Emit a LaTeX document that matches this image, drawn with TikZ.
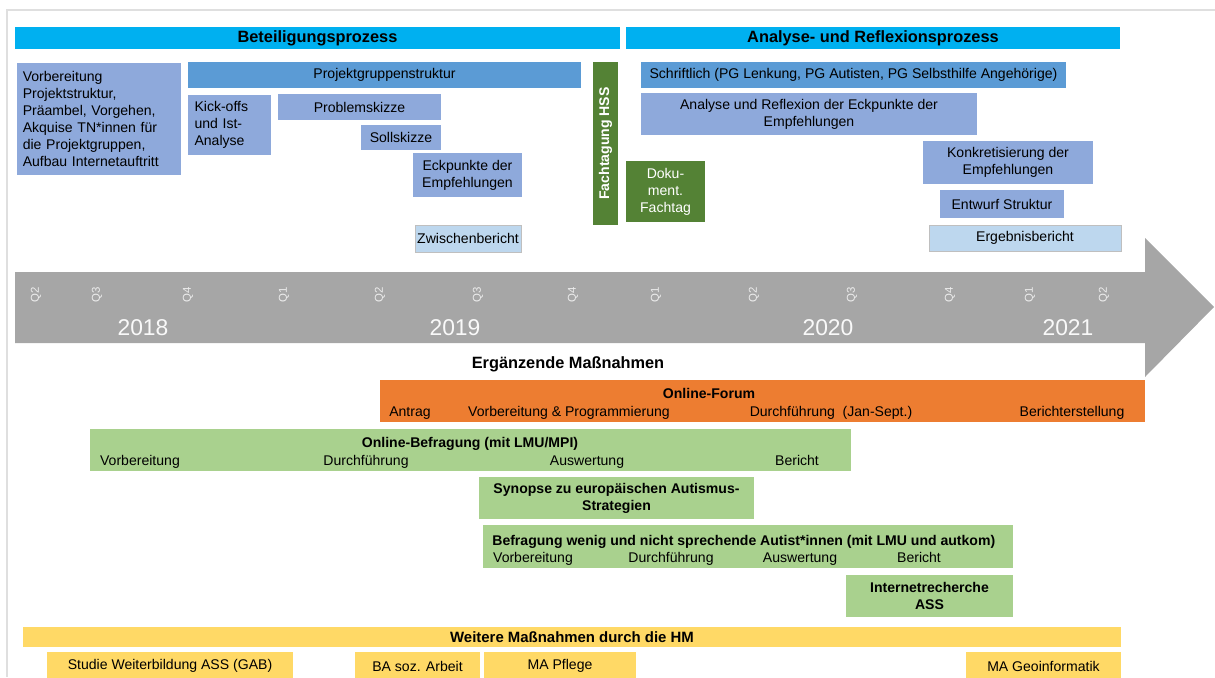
\documentclass[tikz,border=0pt]{standalone}
\usepackage{fontspec}
\setmainfont{Liberation Sans}
\usetikzlibrary{positioning}
\definecolor{hdrblue}{RGB}{0,176,240}
\definecolor{midblue}{RGB}{91,155,213}
\definecolor{softblue}{RGB}{142,169,219}
\definecolor{paleblue}{RGB}{189,215,238}
\definecolor{darkgreen}{RGB}{84,130,53}
\definecolor{lightgreen}{RGB}{169,209,142}
\definecolor{forumorange}{RGB}{237,125,49}
\definecolor{hmyellow}{RGB}{255,217,102}
\definecolor{arrowgray}{RGB}{166,166,166}
\begin{document}
\begin{tikzpicture}[x=0.02cm,y=-0.02cm]
\tikzset{basic/.style={rectangle,inner sep=1pt,align=center,font=\fontsize{8}{9.6}\selectfont}}
\tikzset{box/.style n args={2}{basic,minimum width=#1*0.02cm,minimum height=#2*0.02cm}}
\tikzset{header/.style={font=\fontsize{9.3}{11}\selectfont\bfseries}}
\tikzset{soft/.style={fill=softblue}}
\tikzset{pale/.style={fill=paleblue,draw=gray!50,line width=0.4pt}}
\tikzset{dark/.style={fill=darkgreen,text=white}}
\tikzset{lbl/.style={basic,inner sep=0pt,text height=1.6ex,text depth=0.3ex}}
\tikzset{quarter/.style={basic,inner sep=0pt,rotate=90,text=white!85!gray,font=\fontsize{6.5}{7}\selectfont}}
\tikzset{year/.style={lbl,text=white!95!gray,font=\fontsize{13}{15}\selectfont}}
	\useasboundingbox (0,0) rectangle (1215,677);
	\draw[gray!25,line width=1pt] (1215,10) -- (7,10) -- (7,677);
	% Beteiligungsprozess
	\node[box={605}{22},fill=hdrblue,header] (beteil) at (317.5,38) {Beteiligungsprozess};
	\node[box={494}{22},fill=hdrblue,header] (analyse) at (873,38) {Analyse- und Reflexionsprozess};
	\node[box={164}{112},soft,align=left,text width=3.05cm] (vorb) at (99,119) {Vorbereitung\\Projektstruktur,\\Präambel, Vorgehen,\\Akquise TN*innen für\\die Projektgruppen,\\Aufbau Internetauftritt};
	\node[box={393}{26},fill=midblue] (pgstruct) at (384.5,75) {Projektgruppenstruktur};
	\node[box={83}{60},soft,align=left,text width=1.4cm] (kickoff) at (229.5,125) {Kick-offs\\und Ist-\\Analyse};
	\node[box={163}{26},soft] (problem) at (359.5,107) {Problemskizze};
	\node[box={80}{25},soft] (soll) at (401,137.5) {Sollskizze};
	\node[box={109}{44},soft] (eck) at (467.5,175) {Eckpunkte der\\Empfehlungen};
	\node[box={106}{27},pale] (zwischen) at (468,238.5) {Zwischenbericht};
	\node[box={163}{25},dark,rotate=90,font=\fontsize{8}{9.6}\selectfont\bfseries] (fachtag) at (605.5,143.5) {Fachtagung HSS};
	\node[box={79}{61},dark] (doku) at (665.5,191.5) {Doku-\\ment.\\Fachtag};
	% Analyse- und Reflexionsprozess
	\node[box={425}{26},fill=midblue] (schrift) at (853.5,75) {Schriftlich (PG Lenkung, PG Autisten, PG Selbsthilfe Angehörige)};
	\node[box={336}{42},soft] (analref) at (809,114) {Analyse und Reflexion der Eckpunkte der\\Empfehlungen};
	\node[box={170}{43},soft] (konkret) at (1008,162.5) {Konkretisierung der\\Empfehlungen};
	\node[box={124}{28},soft] (entwurf) at (1002,204) {Entwurf Struktur};
	\node[box={192}{26},pale] (ergebnis) at (1025,238) {Ergebnisbericht};
	% Zeitachse
	\fill[arrowgray] (15,272) -- (1145,272) -- (1145,238) -- (1214,307) -- (1145,377) -- (1145,343) -- (15,343) -- cycle;
	\foreach \qx/\ql [count=\i] in {36/Q2,97/Q3,188/Q4,284/Q1,380/Q2,478/Q3,573/Q4,656/Q1,754/Q2,852/Q3,950/Q4,1030/Q1,1104/Q2}
		\node[quarter] (q\i) at (\qx,295) {\ql};
	\foreach \yx/\yl in {143/2018,455/2019,828/2020,1068/2021}
		\node[year] (y\yl) at (\yx,329) {\yl};
	\node[lbl,header] (ergaenz) at (568,362) {Ergänzende Maßnahmen};
	% Online-Forum
	\node[box={765}{42},fill=forumorange] (forum) at (762.5,401) {};
	\node[lbl,font=\fontsize{8}{9.6}\selectfont\bfseries] (forumtitle) at (709,392) {Online-Forum};
	\node[lbl] (fantrag) at (410,410) {Antrag};
	\node[lbl] (fvorb) at (569,410) {Vorbereitung \& Programmierung};
	\node[lbl] (fdurch) at (831,410) {Durchführung\ \ (Jan-Sept.)};
	\node[lbl] (fbericht) at (1072,410) {Berichterstellung};
	% Online-Befragung
	\node[box={761}{42},fill=lightgreen] (befr) at (470.5,450) {};
	\node[lbl,font=\fontsize{8}{9.6}\selectfont\bfseries] (befrtitle) at (470,441) {Online-Befragung (mit LMU/MPI)};
	\foreach \bx/\bl [count=\i] in {140/Vorbereitung,366/Durchführung,587/Auswertung,797/Bericht}
		\node[lbl] (b\i) at (\bx,459) {\bl};
	\node[box={275}{42},fill=lightgreen,font=\fontsize{8}{9.6}\selectfont\bfseries] (synopse) at (616.5,498) {Synopse zu europäischen Autismus-\\Strategien};
	% Befragung wenig und nicht sprechende
	\node[box={530}{43},fill=lightgreen] (wenig) at (748,546.5) {};
	\node[lbl,anchor=west,font=\fontsize{8}{9.6}\selectfont\bfseries] (wenigtitle) at (492,539) {Befragung wenig und nicht sprechende Autist*innen (mit LMU und autkom)};
	\foreach \wx/\wl [count=\i] in {533/Vorbereitung,671/Durchführung,800/Auswertung,919/Bericht}
		\node[lbl] (w\i) at (\wx,556) {\wl};
	\node[box={167}{42},fill=lightgreen,font=\fontsize{8}{9.6}\selectfont\bfseries] (internet) at (929.5,596) {Internetrecherche\\ASS};
	% Weitere Massnahmen
	\node[box={1098}{20},fill=hmyellow,font=\fontsize{8.5}{10}\selectfont\bfseries] (weitere) at (572,637) {Weitere Maßnahmen durch die HM};
	\node[box={246}{28},fill=hmyellow] (studie) at (170,666) {Studie Weiterbildung ASS (GAB)};
	\node[box={125}{28},fill=hmyellow] (basoz) at (417.5,666) {BA soz. Arbeit};
	\node[box={152}{28},fill=hmyellow] (mapflege) at (560,666) {MA Pflege};
	\node[box={155}{28},fill=hmyellow] (mageo) at (1043.5,666) {MA Geoinformatik};
\end{tikzpicture}
\end{document}
